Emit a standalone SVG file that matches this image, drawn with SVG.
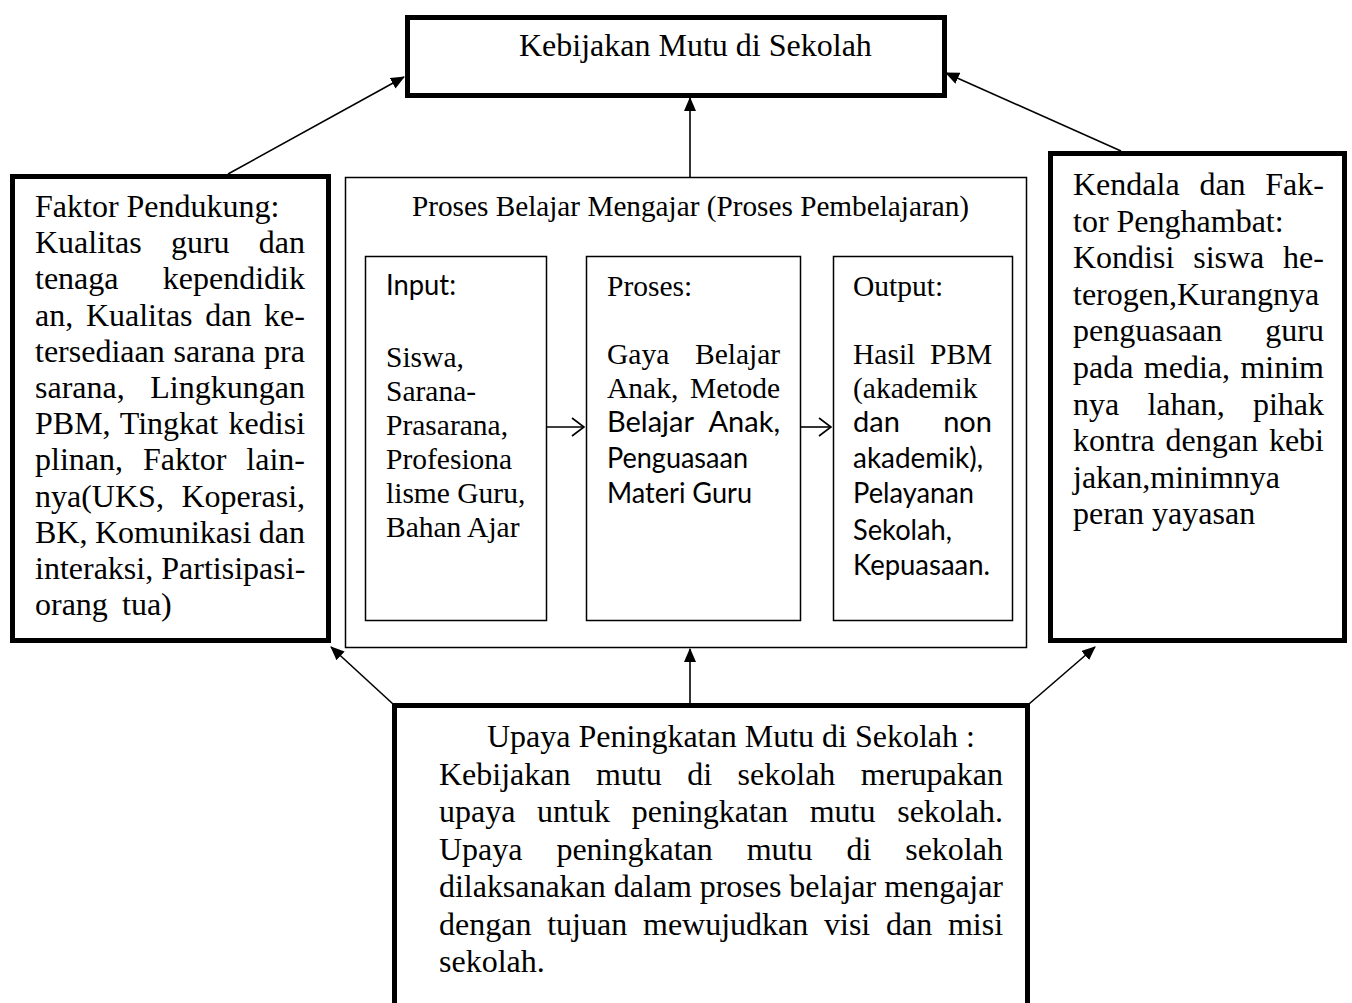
<svg xmlns="http://www.w3.org/2000/svg" width="1352" height="1003" viewBox="0 0 1352 1003">
<style>
.thick{fill:#fff;stroke:#000;stroke-width:5}
.thin{fill:#fff;stroke:#000;stroke-width:1.5}
.c{stroke:#000;stroke-width:1.6;fill:none}
.s{font-family:"Liberation Serif","Times New Roman",serif;font-size:32px;fill:#000}
.b{font-family:"Liberation Serif","Times New Roman",serif;font-size:32px;fill:#000}
.i{font-family:"Liberation Serif","Times New Roman",serif;font-size:29.5px;fill:#000}
.n{font-family:Lato,"Open Sans",sans-serif;font-size:29px;fill:#000}
.e{text-anchor:end}
</style>
<defs>
<marker id="ah" markerWidth="14" markerHeight="12" refX="13" refY="6" orient="auto" markerUnits="userSpaceOnUse">
<path d="M0,0 L14,6 L0,12 z" fill="#000"/>
</marker>
<marker id="oa" markerWidth="14" markerHeight="20" refX="13" refY="10" orient="auto" markerUnits="userSpaceOnUse">
<path d="M1,1 L13,10 L1,19" fill="none" stroke="#000" stroke-width="1.6"/>
</marker>
</defs>

<g id="kebijakan">
<rect class="thick" x="407.5" y="17.5" width="537" height="78"/>
<text class="b" x="519" y="56">Kebijakan Mutu di Sekolah</text>
</g>

<g id="pendukung">
<rect class="thick" x="12.5" y="176.5" width="316" height="464"/>
<g class="s">
<text x="35" y="217">Faktor Pendukung:</text>
<text y="253.2"><tspan x="35">Kualitas</tspan><tspan x="170.9">guru</tspan><tspan x="258.8">dan</tspan></text>
<text y="289.4"><tspan x="35">tenaga</tspan><tspan x="162.8">kependidik</tspan></text>
<text y="325.6"><tspan x="35">an,</tspan><tspan x="85.9">Kualitas</tspan><tspan x="205.3">dan</tspan><tspan x="264.1">ke-</tspan></text>
<text y="361.8"><tspan x="35">tersediaan</tspan><tspan x="173.6">sarana</tspan><tspan x="264.1">pra</tspan></text>
<text y="398"><tspan x="35">sarana,</tspan><tspan x="150.3">Lingkungan</tspan></text>
<text y="434.2"><tspan x="35">PBM,</tspan><tspan x="119.8">Tingkat</tspan><tspan x="228.6">kedisi</tspan></text>
<text y="470.4"><tspan x="35">plinan,</tspan><tspan x="142.9">Faktor</tspan><tspan x="246.3">lain-</tspan></text>
<text y="506.6"><tspan x="35">nya(UKS,</tspan><tspan x="181.5">Koperasi,</tspan></text>
<text y="542.8"><tspan x="35">BK,</tspan><tspan x="94.9">Komunikasi</tspan><tspan x="258.8">dan</tspan></text>
<text y="579"><tspan x="35">interaksi,</tspan><tspan x="161.3">Partisipasi-</tspan></text>
<text y="615.2"><tspan x="35">orang</tspan><tspan x="122">tua)</tspan></text>
</g>
</g>

<g id="pbm">
<rect class="thin" x="345.5" y="177.5" width="681" height="470"/>
<text class="i" x="412" y="216" textLength="557" lengthAdjust="spacingAndGlyphs">Proses Belajar Mengajar (Proses Pembelajaran)</text>
</g>

<g id="input">
<rect class="thin" x="365.5" y="256.5" width="181" height="364"/>
<text class="n" x="386" y="295" textLength="70" lengthAdjust="spacingAndGlyphs">Input:</text>
<g class="i">
<text x="386" y="367">Siswa,</text>
<text x="386" y="401">Sarana-</text>
<text x="386" y="435">Prasarana,</text>
<text x="386" y="469">Profesiona</text>
<text x="386" y="503">lisme Guru,</text>
<text x="386" y="537">Bahan Ajar</text>
</g>
</g>

<g id="proses">
<rect class="thin" x="586.5" y="256.5" width="214" height="364"/>
<text class="i" x="607" y="296">Proses:</text>
<text class="i" y="364"><tspan x="607">Gaya</tspan><tspan x="695">Belajar</tspan></text>
<text class="i" y="398"><tspan x="607">Anak,</tspan><tspan x="690">Metode</tspan></text>
<text class="n" y="432"><tspan x="607">Belajar</tspan><tspan x="780" class="e">Anak,</tspan></text>
<text class="n" x="607" y="468" textLength="141" lengthAdjust="spacingAndGlyphs">Penguasaan</text>
<text class="n" x="607" y="503" textLength="145" lengthAdjust="spacingAndGlyphs">Materi Guru</text>
</g>

<g id="output">
<rect class="thin" x="833.5" y="256.5" width="179" height="364"/>
<text class="i" x="853" y="296">Output:</text>
<text class="i" y="364"><tspan x="853">Hasil</tspan><tspan x="930">PBM</tspan></text>
<text class="i" x="853" y="398">(akademik</text>
<text class="n" y="432"><tspan x="853">dan</tspan><tspan x="992" class="e">non</tspan></text>
<text class="n" x="853" y="468" textLength="130" lengthAdjust="spacingAndGlyphs">akademik),</text>
<text class="n" x="853" y="503" textLength="121" lengthAdjust="spacingAndGlyphs">Pelayanan</text>
<text class="n" x="853" y="540" textLength="99" lengthAdjust="spacingAndGlyphs">Sekolah,</text>
<text class="n" x="853" y="575" textLength="137" lengthAdjust="spacingAndGlyphs">Kepuasaan.</text>
</g>

<g id="kendala">
<rect class="thick" x="1050.5" y="153.5" width="294" height="487"/>
<g class="s">
<text y="195"><tspan x="1073">Kendala</tspan><tspan x="1199.4">dan</tspan><tspan x="1265.3">Fak-</tspan></text>
<text x="1073" y="231.6">tor Penghambat:</text>
<text y="268.2"><tspan x="1073">Kondisi</tspan><tspan x="1193.2">siswa</tspan><tspan x="1283.1">he-</tspan></text>
<text x="1073" y="304.8">terogen,Kurangnya</text>
<text y="341.4"><tspan x="1073">penguasaan</tspan><tspan x="1265.3">guru</tspan></text>
<text y="378"><tspan x="1073">pada</tspan><tspan x="1143.8">media,</tspan><tspan x="1240.4">minim</tspan></text>
<text y="414.6"><tspan x="1073">nya</tspan><tspan x="1147.4">lahan,</tspan><tspan x="1252.9">pihak</tspan></text>
<text y="451.2"><tspan x="1073">kontra</tspan><tspan x="1165.6">dengan</tspan><tspan x="1268.9">kebi</tspan></text>
<text x="1073" y="487.8">jakan,minimnya</text>
<text x="1073" y="524.4">peran yayasan</text>
</g>
</g>

<g id="upaya">
<rect class="thick" x="394.5" y="705.5" width="633" height="320"/>
<g class="b">
<text x="487" y="747">Upaya Peningkatan Mutu di Sekolah :</text>
<text y="784.5"><tspan x="439">Kebijakan</tspan><tspan x="596">mutu</tspan><tspan x="687.2">di</tspan><tspan x="737.6">sekolah</tspan><tspan x="860.8">merupakan</tspan></text>
<text y="822"><tspan x="439">upaya</tspan><tspan x="537.1">untuk</tspan><tspan x="631.7">peningkatan</tspan><tspan x="809.7">mutu</tspan><tspan x="897.2">sekolah.</tspan></text>
<text y="859.5"><tspan x="439">Upaya</tspan><tspan x="556.4">peningkatan</tspan><tspan x="746.7">mutu</tspan><tspan x="846.4">di</tspan><tspan x="905.2">sekolah</tspan></text>
<text x="439" y="897" textLength="564" lengthAdjust="spacing">dilaksanakan dalam proses belajar mengajar</text>
<text y="934.5"><tspan x="439">dengan</tspan><tspan x="547.2">tujuan</tspan><tspan x="643">mewujudkan</tspan><tspan x="824">visi</tspan><tspan x="886">dan</tspan><tspan x="947.9">misi</tspan></text>
<text x="439" y="972">sekolah.</text>
</g>
</g>

<g id="connectors">
<line class="c" x1="228" y1="174" x2="404" y2="77" marker-end="url(#ah)"/>
<line class="c" x1="690" y1="177" x2="690" y2="98" marker-end="url(#ah)"/>
<line class="c" x1="1121" y1="151" x2="946" y2="73" marker-end="url(#ah)"/>
<line class="c" x1="393" y1="704" x2="331" y2="647" marker-end="url(#ah)"/>
<line class="c" x1="690" y1="704" x2="690" y2="649" marker-end="url(#ah)"/>
<line class="c" x1="1029" y1="704" x2="1095" y2="647" marker-end="url(#ah)"/>
<line class="c" x1="547" y1="427" x2="584" y2="427" marker-end="url(#oa)"/>
<line class="c" x1="801" y1="427" x2="831" y2="427" marker-end="url(#oa)"/>
</g>
</svg>
